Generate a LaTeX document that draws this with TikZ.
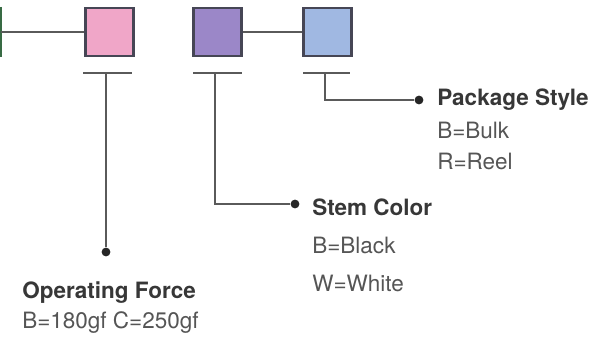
\documentclass[tikz,border=0pt]{standalone}
\usepackage{fontspec}
\setmainfont{TeX Gyre Heros}
\usetikzlibrary{positioning, calc}
\definecolor{forcepink}{RGB}{240,166,200}
\definecolor{stempurple}{RGB}{155,135,200}
\definecolor{pkgblue}{RGB}{160,184,226}
\definecolor{boxedge}{RGB}{70,70,85}
\definecolor{leadgray}{RGB}{90,90,90}
\definecolor{textgray}{RGB}{55,55,55}

\begin{document}
\begin{tikzpicture}[
    x=0.025cm, y=-0.025cm,
    key/.style={rectangle, draw=boxedge, line width=1.5pt, minimum size=1.2cm, inner sep=0pt},
    lead/.style={draw=leadgray, line width=1.4pt},
    dot/.style={circle, fill=black!85, minimum size=0.22cm, inner sep=0pt},
    title/.style={anchor=base west, inner sep=0pt, text=textgray, font=\fontsize{16}{19}\selectfont\bfseries},
    option/.style={anchor=base west, inner sep=0pt, text=textgray!85, font=\fontsize{16}{19}\selectfont}
]
\useasboundingbox (0,0) rectangle (613,348);

% Part number boxes
\coordinate (edgetop) at (1,7);
\coordinate (edgebot) at (1,57);
\coordinate (edgemid) at (1,32);
\node[key, fill=forcepink] (force) at (109.5,32) {};
\node[key, fill=stempurple] (stem) at (217.5,32) {};
\node[key, fill=pkgblue] (pkg) at (327.5,32) {};

\draw[lead, draw=boxedge!80!green] (edgetop) -- (edgebot);
\draw[lead] (edgemid) -- (force.west);
\draw[lead] (stem.east) -- (pkg.west);

% Bars under the boxes
\coordinate (forcebarL) at (83,73);
\coordinate (forcebarR) at (132,73);
\coordinate (forcebar) at (106,73);
\coordinate (stembarL) at (193,73);
\coordinate (stembarR) at (242,73);
\coordinate (stembar) at (215,73);
\coordinate (pkgbarL) at (303,73);
\coordinate (pkgbarR) at (350,73);
\coordinate (pkgbar) at (325,73);

\draw[lead] (forcebarL) -- (forcebarR);
\draw[lead] (stembarL) -- (stembarR);
\draw[lead] (pkgbarL) -- (pkgbarR);

% Leaders
\node[dot] (forcedot) at (106,252) {};
\node[dot] (stemdot) at (295,204) {};
\node[dot] (pkgdot) at (419,100) {};

\draw[lead] (forcebar) -- (forcedot);
\draw[lead] (stembar) |- (stemdot);
\draw[lead] (pkgbar) |- (pkgdot);

% Labels
\node[title] (pkgtitle) at (437,106) {Package Style};
\node[option] (pkgbulk) at (437,139) {B=Bulk};
\node[option] (pkgreel) at (437,170) {R=Reel};

\node[title] (stemtitle) at (312,216) {Stem Color};
\node[option] (stemblack) at (312,253) {B=Black};
\node[option] (stemwhite) at (312,291) {W=White};

\node[title] (forcetitle) at (22,298) {Operating Force};
\node[option] (forceopt) at (22,328) {B=180gf C=250gf};

\end{tikzpicture}
\end{document}
